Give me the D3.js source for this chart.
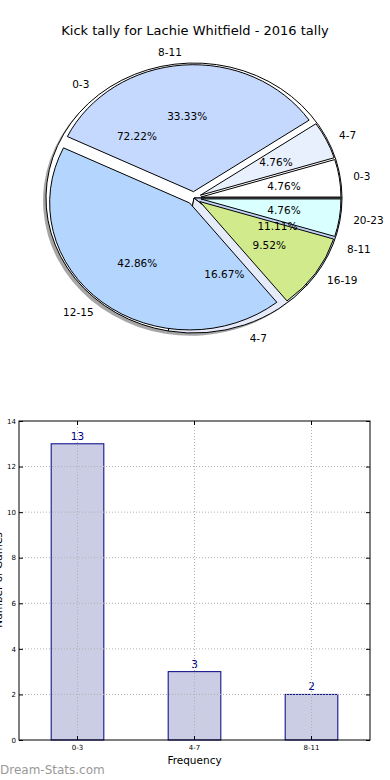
<!DOCTYPE html>
<html>
<head>
<meta charset="utf-8">
<title>Kick tally</title>
<style>
body { margin: 0; background: #fff; }
svg { display: block; }
text { font-family: "DejaVu Sans", sans-serif; fill: #000; }
path.wedge { stroke: #000; stroke-width: 1px; stroke-linejoin: miter; }
.grid line { stroke: #b0b0b0; stroke-dasharray: 1,2; }
.tick text { font-size: 7px; }
</style>
<script src="https://cdn.jsdelivr.net/npm/d3@7"></script>
</head>
<body>
<script>
// pie underneath: tally per game, grouped
var groupLabels = ["0-3", "4-7", "8-11"];
var groupValues = [13, 3, 2];
// pie on top: kicks per game range
var rangeLabels = ["0-3", "4-7", "8-11", "12-15", "16-19", "20-23"];
var rangeValues = [1, 1, 7, 9, 2, 1];
// bar chart
var barCats = ["0-3", "4-7", "8-11"];
var barValues = [13, 3, 2];
var yTicks = [0, 2, 4, 6, 8, 10, 12, 14];

var groupColors = ["#ffffff", "#e6ebfa", "#bfd2f5"];
var rangeColors = ["#ffffff", "#e8effd", "#c5d9fe", "#b3d5fe", "#d0ea8c", "#d9ffff"];

var width = 390, height = 780;

var svg = d3.select("body").append("svg")
    .attr("width", width)
    .attr("height", height);

svg.append("text")
    .attr("x", 195)
    .attr("y", 35)
    .attr("text-anchor", "middle")
    .style("font-size", "13px")
    .text("Kick tally for Lachie Whitfield - 2016 tally");

// ---------- pies ----------
var cx = 194, cy = 198;

var pie = d3.pie().sort(null).value(function(d) { return d; })
    .startAngle(Math.PI / 2)
    .endAngle(Math.PI / 2 - 2 * Math.PI);

var unitArc = d3.arc().innerRadius(0).outerRadius(1);

function midOf(a) {
  var m = (a.startAngle + a.endAngle) / 2;
  return {x: Math.sin(m), y: -Math.cos(m)};
}

function pct(v, total) {
  return d3.format(".2f")(v / total * 100) + "%";
}

var gPie = svg.append("g");
var gText = svg.append("g");

function drawPie(values, labels, colors, rx, ry, explode, shadow) {
  var arcs = pie(values);
  var total = d3.sum(values);
  arcs.forEach(function(a, i) {
    var u = midOf(a);
    a.ox = cx + explode * rx * u.x;
    a.oy = cy + explode * ry * u.y;
    a.u = u;
    a.label = labels[i];
    a.color = colors[i];
  });

  if (shadow) {
    gPie.selectAll(null)
        .data(arcs)
        .enter().append("path")
        .attr("d", unitArc)
        .attr("transform", function(d) {
          return "translate(" + (d.ox - 0.02 * rx) + "," + (d.oy + 0.02 * ry) + ") scale(" + rx + "," + ry + ")";
        })
        .style("fill", "rgba(77,77,77,0.5)");
  }

  gPie.selectAll(null)
      .data(arcs)
      .enter().append("path")
      .attr("class", "wedge")
      .attr("d", unitArc)
      .attr("vector-effect", "non-scaling-stroke")
      .attr("transform", function(d) {
        return "translate(" + d.ox + "," + d.oy + ") scale(" + rx + "," + ry + ")";
      })
      .style("fill", function(d) { return d.color; });

  // labels outside
  gText.selectAll(null)
      .data(arcs)
      .enter().append("text")
      .attr("x", function(d) { return d.ox + 1.1 * rx * d.u.x; })
      .attr("y", function(d) { return d.oy + 1.1 * ry * d.u.y; })
      .attr("text-anchor", function(d) { return d.u.x > 0 ? "start" : "end"; })
      .attr("dominant-baseline", "central")
      .style("font-size", "10.5px")
      .text(function(d) { return d.label; });

  // percentages inside
  gText.selectAll(null)
      .data(arcs)
      .enter().append("text")
      .attr("x", function(d) { return d.ox + 0.6 * rx * d.u.x; })
      .attr("y", function(d) { return d.oy + 0.6 * ry * d.u.y; })
      .attr("text-anchor", "middle")
      .attr("dominant-baseline", "central")
      .style("font-size", "10.5px")
      .text(function(d) { return pct(d.value, total); });
}

drawPie(groupValues, groupLabels, groupColors, 148, 135, 0, true);
drawPie(rangeValues, rangeLabels, rangeColors, 140, 127, 0.05, false);

// ---------- bar chart ----------
var plotLeft = 19, plotRight = 370, plotTop = 421, plotBottom = 740;

var x = d3.scaleBand()
    .domain(barCats)
    .range([plotLeft, plotRight])
    .paddingInner(0.55)
    .paddingOuter(0.275);

var y = d3.scaleLinear()
    .domain([0, 14])
    .range([plotBottom, plotTop]);

var bars = svg.append("g");
bars.selectAll("rect")
    .data(barValues)
    .enter().append("rect")
    .attr("x", function(d, i) { return x(barCats[i]); })
    .attr("y", function(d) { return y(d); })
    .attr("width", x.bandwidth())
    .attr("height", function(d) { return y(0) - y(d); })
    .style("fill", "#cbcde4")
    .style("stroke", "#000080")
    .style("stroke-width", 1);

// grid on top of bars
var grid = svg.append("g").attr("class", "grid");
grid.selectAll(".gy")
    .data(yTicks.filter(function(t) { return t > 0 && t < 14; }))
    .enter().append("line")
    .attr("x1", plotLeft).attr("x2", plotRight)
    .attr("y1", function(d) { return y(d); })
    .attr("y2", function(d) { return y(d); });
grid.selectAll(".gx")
    .data(barCats)
    .enter().append("line")
    .attr("x1", function(d) { return x(d) + x.bandwidth() / 2; })
    .attr("x2", function(d) { return x(d) + x.bandwidth() / 2; })
    .attr("y1", plotTop).attr("y2", plotBottom);

bars.selectAll("text")
    .data(barValues)
    .enter().append("text")
    .attr("x", function(d, i) { return x(barCats[i]) + x.bandwidth() / 2; })
    .attr("y", function(d) { return y(d) - 4; })
    .attr("text-anchor", "middle")
    .style("font-size", "10.5px")
    .style("fill", "#000080")
    .text(function(d) { return d; });

// axes with inward ticks
svg.append("g")
    .attr("transform", "translate(" + plotLeft + ",0)")
    .call(d3.axisLeft(y).tickValues(yTicks).tickSize(-4).tickPadding(3))
    .call(function(g) { g.select(".domain").remove(); });
svg.append("g")
    .attr("transform", "translate(" + plotRight + ",0)")
    .call(d3.axisRight(y).tickValues(yTicks).tickSize(-4).tickFormat(""))
    .call(function(g) { g.select(".domain").remove(); });
svg.append("g")
    .attr("transform", "translate(0," + plotBottom + ")")
    .call(d3.axisBottom(x).tickSize(-4).tickPadding(5))
    .call(function(g) { g.select(".domain").remove(); });
svg.append("g")
    .attr("transform", "translate(0," + plotTop + ")")
    .call(d3.axisTop(x).tickSize(-4).tickFormat(""))
    .call(function(g) { g.select(".domain").remove(); });

svg.append("rect")
    .attr("x", plotLeft).attr("y", plotTop)
    .attr("width", plotRight - plotLeft).attr("height", plotBottom - plotTop)
    .style("fill", "none")
    .style("stroke", "#000")
    .style("stroke-width", 1);

svg.append("text")
    .attr("x", (plotLeft + plotRight) / 2)
    .attr("y", 764)
    .attr("text-anchor", "middle")
    .style("font-size", "10.5px")
    .text("Frequency");

svg.append("text")
    .attr("transform", "translate(2,580) rotate(-90)")
    .attr("text-anchor", "middle")
    .style("font-size", "10.5px")
    .text("Number of Games");

svg.append("text")
    .attr("x", 0)
    .attr("y", 774)
    .style("font-size", "12px")
    .style("fill", "#999")
    .text("Dream-Stats.com");
</script>
</body>
</html>
